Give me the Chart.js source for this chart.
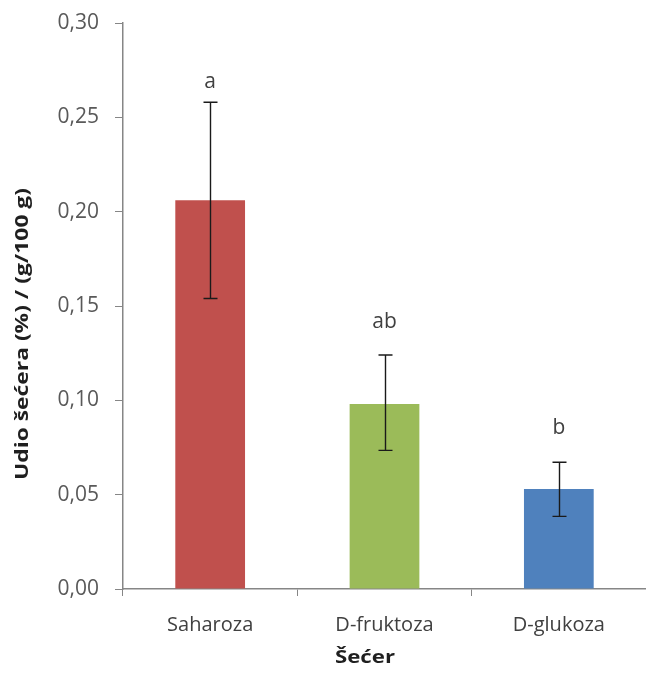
<!DOCTYPE html>
<html>
<head>
<meta charset="utf-8">
<script src="https://cdn.jsdelivr.net/npm/chart.js@4/dist/chart.umd.min.js"></script>
<style>
  html, body { margin: 0; padding: 0; background: #fff; }
  #wrap { width: 646px; height: 691px; position: relative; }
</style>
</head>
<body>
<div id="wrap"><canvas id="sugarChart"></canvas></div>
<script>
// data
const categories = ['Saharoza', 'D-fruktoza', 'D-glukoza'];
const meanValues = [0.206, 0.098, 0.053];
const errLow = [0.154, 0.0735, 0.0385];
const errHigh = [0.258, 0.124, 0.0672];
const groupLetters = ['a', 'ab', 'b'];
const letterHeights = [0.2687, 0.1415, 0.0853];
const yTicks = [0, 0.05, 0.10, 0.15, 0.20, 0.25, 0.30];

const barColors = ['#C0504D', '#9BBB59', '#4F81BD'];
const FONT = "'Open Sans', sans-serif";

// draws text squeezed/stretched to a given width (original is a rescaled Excel picture)
function drawFitted(ctx, text, width) {
  const w = ctx.measureText(text).width;
  ctx.save();
  ctx.scale(width / w, 1);
  ctx.fillText(text, 0, 0);
  ctx.restore();
}

// error bars + significance letters
const errorBarPlugin = {
  id: 'errorBars',
  afterDatasetsDraw(chart) {
    const ctx = chart.ctx;
    const x = chart.scales.x, y = chart.scales.y;
    ctx.save();
    ctx.strokeStyle = '#1a1a1a';
    ctx.lineWidth = 1.4;
    categories.forEach((c, i) => {
      const cx = Math.round(x.getPixelForValue(i)) + 0.5;
      const top = y.getPixelForValue(errHigh[i]);
      const bot = y.getPixelForValue(errLow[i]);
      ctx.beginPath();
      ctx.moveTo(cx, top); ctx.lineTo(cx, bot);
      ctx.moveTo(cx - 7, top); ctx.lineTo(cx + 7, top);
      ctx.moveTo(cx - 7, bot); ctx.lineTo(cx + 7, bot);
      ctx.stroke();
    });
    ctx.fillStyle = '#404040';
    ctx.font = '21px ' + FONT;
    ctx.textAlign = 'center';
    ctx.textBaseline = 'middle';
    groupLetters.forEach((t, i) => {
      ctx.fillText(t, x.getPixelForValue(i), y.getPixelForValue(letterHeights[i]));
    });
    ctx.restore();
  }
};

// axis titles (placed like in the original, not centred on the axes)
const axisTitlePlugin = {
  id: 'axisTitles',
  afterDraw(chart) {
    const ctx = chart.ctx;
    ctx.save();
    ctx.fillStyle = '#1f1f1f';
    ctx.font = 'bold 17px ' + FONT;
    ctx.textAlign = 'center';
    ctx.textBaseline = 'middle';
    ctx.translate(23, 334);
    ctx.rotate(-Math.PI / 2);
    drawFitted(ctx, 'Udio šećera (%) / (g/100 g)', 292);
    ctx.restore();
    ctx.save();
    ctx.fillStyle = '#1f1f1f';
    ctx.font = 'bold 18px ' + FONT;
    ctx.textAlign = 'center';
    ctx.textBaseline = 'middle';
    ctx.translate(365, 658);
    drawFitted(ctx, 'Šećer', 60);
    ctx.restore();
  }
};

new Chart(document.getElementById('sugarChart'), {
  type: 'bar',
  data: {
    labels: categories,
    datasets: [{
      data: meanValues,
      backgroundColor: barColors,
      borderWidth: 0,
      barPercentage: 0.8,
      categoryPercentage: 0.5
    }]
  },
  options: {
    responsive: true,
    maintainAspectRatio: false,
    animation: false,
    layout: { padding: { top: 23, right: 0, left: 0, bottom: 0 } },
    plugins: {
      legend: { display: false },
      tooltip: { enabled: false }
    },
    scales: {
      x: {
        afterFit(axis) { axis.height = 102; axis.paddingLeft = 0; axis.paddingRight = 0; },
        grid: {
          offset: true,
          drawOnChartArea: false,
          color: '#868686',
          tickLength: 7
        },
        border: { color: '#868686', width: 1.5 },
        ticks: {
          color: '#404040',
          font: { family: FONT, size: 20 },
          padding: 17
        }
      },
      y: {
        min: 0,
        max: 0.30,
        afterFit(axis) { axis.width = 123; axis.paddingTop = 0; axis.paddingBottom = 0; },
        afterBuildTicks(axis) { axis.ticks = yTicks.map(v => ({ value: v })); },
        grid: {
          drawOnChartArea: false,
          color: '#868686',
          tickLength: 8
        },
        border: { color: '#868686', width: 1.5 },
        ticks: {
          color: '#595959',
          font: { family: FONT, size: 21 },
          padding: 16,
          callback: v => v.toFixed(2).replace('.', ',')
        }
      }
    }
  },
  plugins: [errorBarPlugin, axisTitlePlugin]
});
</script>
</body>
</html>
